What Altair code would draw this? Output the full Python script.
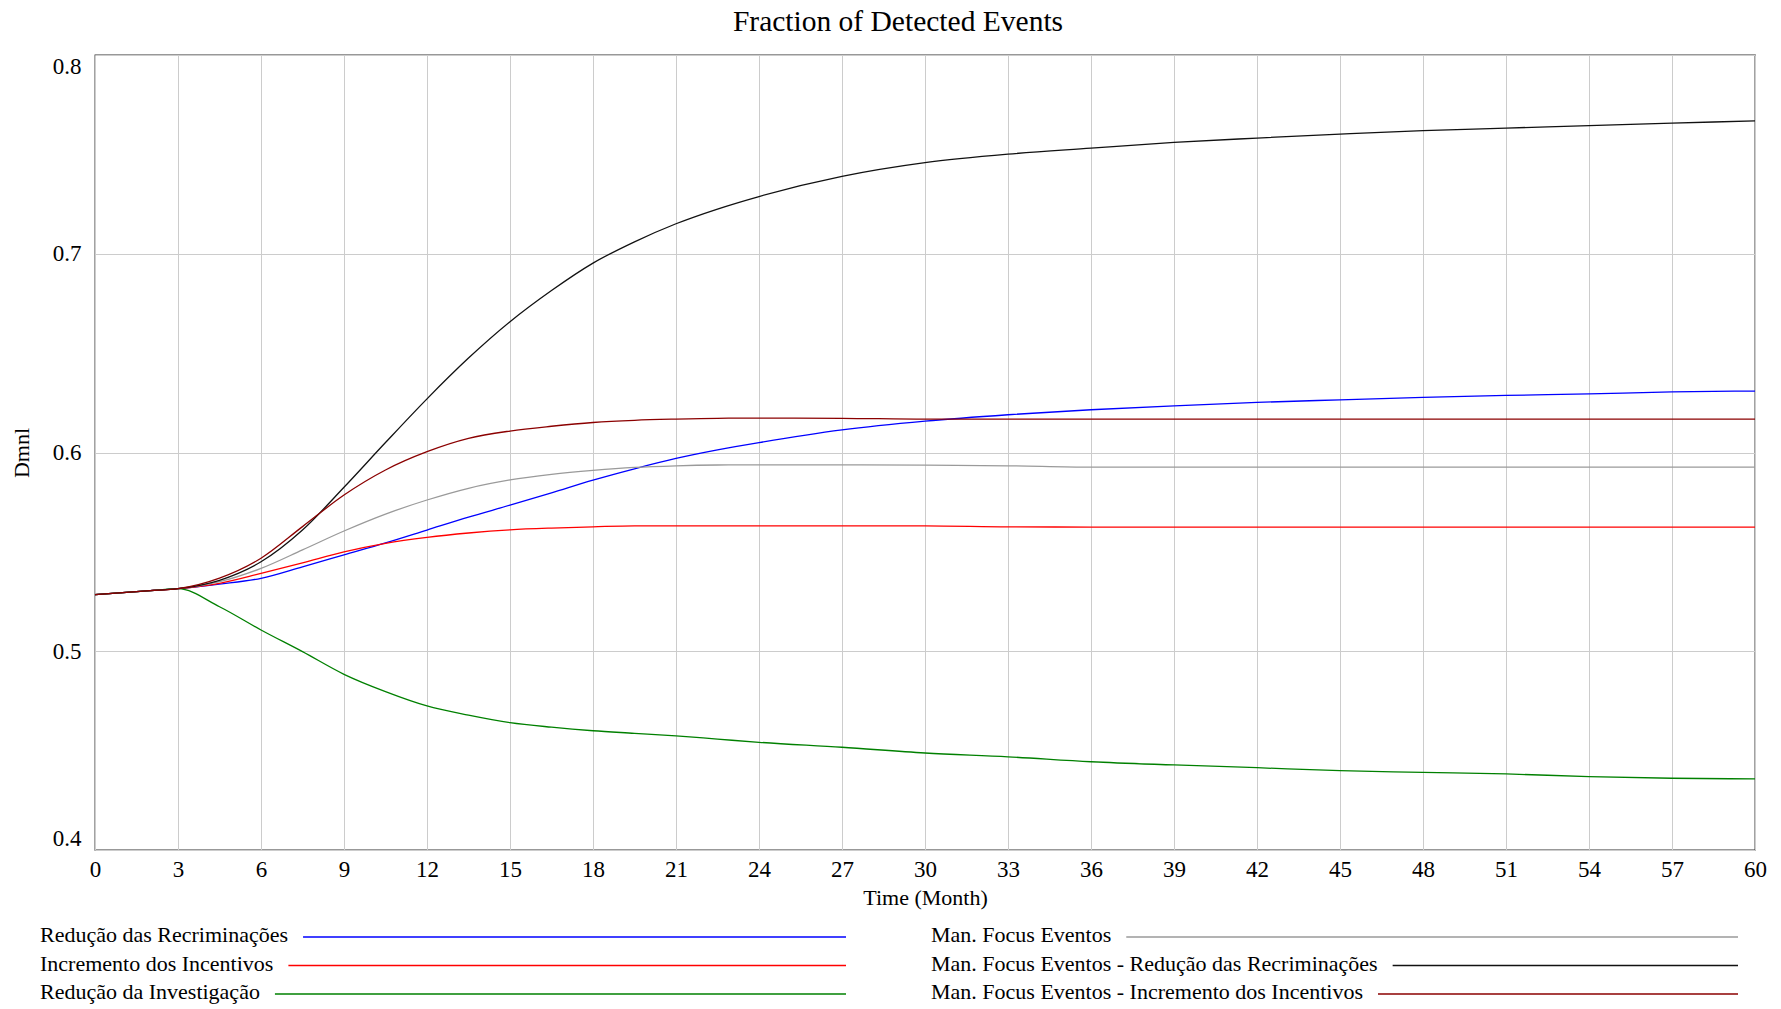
import altair as alt
import pandas as pd

# ---------------- data ----------------
time = [0, 1, 2, 3, 4.5, 6, 7.5, 9, 10.5, 12, 13.5, 15, 16.5, 18, 19.5, 21,
        22.5, 24, 27, 30, 33, 36, 39, 42, 45, 48, 51, 54, 57, 60]

series_names = [
    "Redução das Recriminações",
    "Incremento dos Incentivos",
    "Redução da Investigação",
    "Man. Focus Eventos",
    "Man. Focus Eventos - Redução das Recriminações",
    "Man. Focus Eventos - Incremento dos Incentivos",
]
series_colors = ["#0000ff", "#ff0000", "#008000", "#9a9a9a", "#111111", "#8b0000"]

reducao_recriminacoes = [0.5285, 0.5295, 0.5305, 0.5315, 0.5338, 0.5367, 0.5425, 0.5485,
                         0.5545, 0.5610, 0.5675, 0.5735, 0.5797, 0.5861, 0.5918, 0.5970,
                         0.6013, 0.6050, 0.6114, 0.6158, 0.6190, 0.6215, 0.6235, 0.6252,
                         0.6265, 0.6277, 0.6287, 0.6295, 0.6305, 0.6309]
incremento_incentivos = [0.5285, 0.5295, 0.5305, 0.5315, 0.5342, 0.5392, 0.5445, 0.5500,
                         0.5543, 0.5573, 0.5595, 0.5611, 0.5620, 0.5626, 0.5631, 0.5631,
                         0.5631, 0.5631, 0.5631, 0.5631, 0.5626, 0.5625, 0.5625, 0.5625,
                         0.5625, 0.5625, 0.5625, 0.5625, 0.5625, 0.5625]
reducao_investigacao = [0.5285, 0.5295, 0.5305, 0.5315, 0.5224, 0.5107, 0.4998, 0.4884,
                        0.4797, 0.4725, 0.4679, 0.4641, 0.4618, 0.4600, 0.4587, 0.4574,
                        0.4558, 0.4542, 0.4517, 0.4488, 0.4469, 0.4444, 0.4428, 0.4414,
                        0.4399, 0.4391, 0.4383, 0.4369, 0.4361, 0.4358]
man_focus = [0.5285, 0.5295, 0.5305, 0.5315, 0.5350, 0.5417, 0.5510, 0.5605,
             0.5690, 0.5761, 0.5820, 0.5862, 0.5890, 0.5910, 0.5925, 0.5933,
             0.5937, 0.5938, 0.5938, 0.5936, 0.5933, 0.5926, 0.5926, 0.5926,
             0.5926, 0.5926, 0.5926, 0.5926, 0.5926, 0.5926]
man_focus_recriminacoes = [0.5285, 0.5295, 0.5305, 0.5315, 0.5357, 0.5450, 0.5610, 0.5825,
                           0.6050, 0.6270, 0.6475, 0.6658, 0.6815, 0.6953, 0.7060, 0.7151,
                           0.7225, 0.7288, 0.7389, 0.7458, 0.7501, 0.7531, 0.7560, 0.7582,
                           0.7602, 0.7620, 0.7632, 0.7645, 0.7657, 0.7669]
man_focus_incentivos = [0.5285, 0.5295, 0.5305, 0.5315, 0.5368, 0.5468, 0.5627, 0.5786,
                        0.5912, 0.6004, 0.6071, 0.6108, 0.6132, 0.6151, 0.6162, 0.6168,
                        0.6172, 0.6173, 0.6172, 0.6168, 0.6168, 0.6168, 0.6168, 0.6168,
                        0.6168, 0.6168, 0.6168, 0.6168, 0.6168, 0.6168]

x_ticks = list(range(0, 61, 3))
y_ticks = [0.4, 0.5, 0.6, 0.7, 0.8]

# ---------------- build tables ----------------
all_series = [reducao_recriminacoes, incremento_incentivos, reducao_investigacao,
              man_focus, man_focus_recriminacoes, man_focus_incentivos]
rows = []
for k, (name, vals) in enumerate(zip(series_names, all_series)):
    for t, v in zip(time, vals):
        rows.append({"Time": t, "Value": v, "Series": name, "order": k})
df = pd.DataFrame(rows)

FONT = "Liberation Serif"
W, H = 1660, 795
LEG_SIZE = 22

# approximate Times/Liberation Serif advance widths (per 1000 em)
_TW = {' ': 250, '.': 250, '-': 333, 'a': 444, 'c': 444, 'd': 500, 'e': 444, 'g': 500,
       'i': 278, 'l': 278, 'm': 778, 'n': 500, 'o': 500, 'r': 333, 's': 389, 't': 278,
       'u': 500, 'v': 500, 'ç': 444, 'ã': 444, 'õ': 500, 'R': 667, 'I': 333, 'M': 889,
       'F': 556, 'E': 611, 'D': 722}


def text_width(s, size):
    return sum(_TW.get(ch, 500) for ch in s) / 1000.0 * size


# legend layout (pixels relative to plot origin)
col_text_x = [-55, 836]
col_line_end = [751, 1643]
row_y = [882, 910.5, 939]
leg_rows = []
for k, name in enumerate(series_names):
    c, r = k // 3, k % 3
    tx = col_text_x[c]
    leg_rows.append({
        "Series": name,
        "tx": tx,
        "ty": row_y[r] + 5,
        "lx1": tx + text_width(name, LEG_SIZE) + 15,
        "lx2": col_line_end[c],
        "ly": row_y[r],
    })
leg = pd.DataFrame(leg_rows)

color_scale = alt.Scale(domain=series_names, range=series_colors)

lines = alt.Chart(df).mark_line(strokeWidth=1.3, interpolate="monotone").encode(
    x=alt.X("Time:Q",
            scale=alt.Scale(domain=[0, 60], nice=False, zero=False),
            axis=alt.Axis(values=x_ticks, title="Time (Month)", labelFlush=False,
                          labelPadding=8, titlePadding=6, grid=True)),
    y=alt.Y("Value:Q",
            scale=alt.Scale(domain=[0.4, 0.8], nice=False, zero=False),
            axis=alt.Axis(values=y_ticks, title="Dmnl", format=".1f", labelFlush=True,
                          labelPadding=14, titlePadding=19, grid=True)),
    color=alt.Color("Series:N", scale=color_scale, legend=None),
    order=alt.Order("order:Q"),
    detail="Series:N",
)

leg_text = alt.Chart(leg).mark_text(align="left", baseline="alphabetic", font=FONT,
                                    fontSize=LEG_SIZE, color="black").encode(
    x=alt.X("tx:Q", scale=None),
    y=alt.Y("ty:Q", scale=None),
    text="Series:N",
)

leg_lines = alt.Chart(leg).mark_rule(strokeWidth=1.3).encode(
    x=alt.X("lx1:Q", scale=None),
    x2="lx2:Q",
    y=alt.Y("ly:Q", scale=None),
    color=alt.Color("Series:N", scale=color_scale, legend=None),
)

chart = alt.layer(lines, leg_lines, leg_text).properties(
    width=W, height=H,
    background="white",
    title=alt.TitleParams("Fraction of Detected Events", font=FONT, fontSize=29.5,
                          fontWeight="normal", anchor="middle", baseline="bottom",
                          frame="group", offset=17, dx=-27, dy=28, color="black"),
    autosize=alt.AutoSizeParams(type="none"),
    padding={"left": 95, "top": 55, "right": 26, "bottom": 159},
).configure_view(
    stroke="#333333", strokeWidth=1.3
).configure_axis(
    labelFont=FONT, titleFont=FONT, labelFontSize=23, titleFontSize=22,
    titleFontWeight="normal", labelColor="black", titleColor="black",
    gridColor="#cccccc", gridWidth=1, ticks=False, domain=False,
)

chart.save("out.html", embed_options={"renderer": "svg", "actions": False})
